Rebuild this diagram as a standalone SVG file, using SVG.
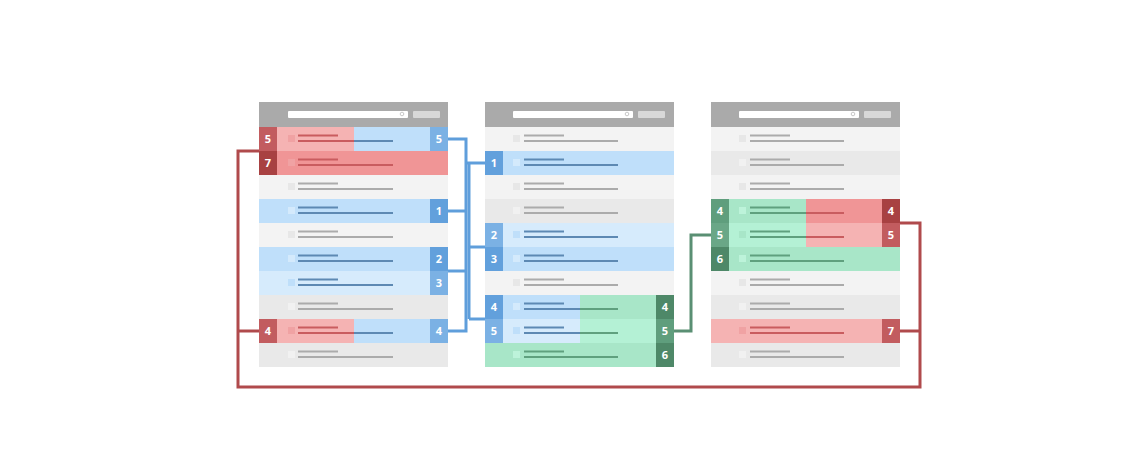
<svg xmlns="http://www.w3.org/2000/svg" width="1140" height="471" viewBox="0 0 1140 471">
<style>
.bg{fill:#ffffff}
.hdr{fill:#aaaaaa}
.srch{fill:#ffffff}
.btn{fill:#d8d8d8}
.g1{fill:#f3f3f3}
.g2{fill:#e9e9e9}
.bl{fill:#bfdffa}
.bl2{fill:#d6ebfc}
.pk{fill:#f5b3b3}
.sa{fill:#f09596}
.gr{fill:#a8e6c8}
.gr2{fill:#b4f1d5}
.bB{fill:#62a0dc}
.bB2{fill:#7bb1e4}
.bR{fill:#c25c5f}
.bR2{fill:#a84142}
.bG{fill:#4e8868}
.bG2{fill:#5f9e7d}
.bG3{fill:#6aa787}
.lG{fill:#ababab}
.lB{fill:#5d89b3}
.lR{fill:#c95c5f}
.lN{fill:#5fa07e}
.cg1{fill:#e7e7e7}
.cg2{fill:#f1f1f1}
.cb{fill:#d4eafc}
.cr{fill:#f0a2a3}
.cn{fill:#bdf3da}
.t{font-family:"Open Sans","DejaVu Sans",sans-serif;font-weight:bold;font-size:11px;fill:#ffffff;text-anchor:middle}
.cB{fill:none;stroke:#5f9edb;stroke-width:3}
.cN{fill:none;stroke:#5a8f73;stroke-width:3}
.cR{fill:none;stroke:#b04a4c;stroke-width:3}
.mag{fill:none;stroke:#c8c8c8;stroke-width:1}
</style>
<rect class="bg" x="0" y="0" width="1140" height="471"/>

<g id="connectors">
  <polyline class="cR" points="259,151 238,151 238,387 920,387 920,223 899,223"/>
  <line class="cR" x1="238" y1="331" x2="259" y2="331"/>
  <line class="cR" x1="899" y1="331" x2="920" y2="331"/>
  <polyline class="cB" points="448,139 466,139 466,331 448,331"/>
  <line class="cB" x1="448" y1="211" x2="466" y2="211"/>
  <line class="cB" x1="448" y1="271" x2="466" y2="271"/>
  <polyline class="cB" points="466,163 485,163"/>
  <line class="cB" x1="469" y1="163" x2="469" y2="319"/>
  <line class="cB" x1="469" y1="247" x2="485" y2="247"/>
  <line class="cB" x1="469" y1="319" x2="485" y2="319"/>
  <polyline class="cN" points="673,331 691,331 691,235 711,235"/>
</g>

<g id="panel-left">
  <rect class="hdr" x="259" y="102" width="189" height="25"/>
  <rect class="srch" x="288" y="111" width="120" height="7" rx="1"/>
  <circle class="mag" cx="402" cy="114" r="1.8"/>
  <rect class="btn" x="413" y="111" width="27" height="7" rx="1"/>
  <rect class="pk" x="277" y="127" width="77" height="24"/>
  <rect class="bl" x="354" y="127" width="76" height="24"/>
  <rect class="cr" x="288" y="135" width="7" height="7"/>
  <rect class="lR" x="298" y="134.5" width="40" height="2"/>
  <rect class="lR" x="298" y="140" width="56" height="2"/>
  <rect class="lB" x="354" y="140" width="39" height="2"/>
  <rect class="bR" x="259" y="127" width="18" height="24"/><text class="t" x="268" y="143">5</text>
  <rect class="bB2" x="430" y="127" width="18" height="24"/><text class="t" x="439" y="143">5</text>
  <rect class="sa" x="277" y="151" width="171" height="24"/>
  <rect class="cr" x="288" y="159" width="7" height="7"/>
  <rect class="lR" x="298" y="158.5" width="40" height="2"/>
  <rect class="lR" x="298" y="164" width="95" height="2"/>
  <rect class="bR2" x="259" y="151" width="18" height="24"/><text class="t" x="268" y="167">7</text>
  <rect class="g1" x="259" y="175" width="189" height="24"/>
  <rect class="cg1" x="288" y="183" width="7" height="7"/>
  <rect class="lG" x="298" y="182.5" width="40" height="2"/>
  <rect class="lG" x="298" y="188" width="95" height="2"/>
  <rect class="bl" x="259" y="199" width="189" height="24"/>
  <rect class="cb" x="288" y="207" width="7" height="7"/>
  <rect class="lB" x="298" y="206.5" width="40" height="2"/>
  <rect class="lB" x="298" y="212" width="95" height="2"/>
  <rect class="bB" x="430" y="199" width="18" height="24"/><text class="t" x="439" y="215">1</text>
  <rect class="g1" x="259" y="223" width="189" height="24"/>
  <rect class="cg1" x="288" y="231" width="7" height="7"/>
  <rect class="lG" x="298" y="230.5" width="40" height="2"/>
  <rect class="lG" x="298" y="236" width="95" height="2"/>
  <rect class="bl" x="259" y="247" width="189" height="24"/>
  <rect class="cb" x="288" y="255" width="7" height="7"/>
  <rect class="lB" x="298" y="254.5" width="40" height="2"/>
  <rect class="lB" x="298" y="260" width="95" height="2"/>
  <rect class="bB" x="430" y="247" width="18" height="24"/><text class="t" x="439" y="263">2</text>
  <rect class="bl2" x="259" y="271" width="189" height="24"/>
  <rect class="bl" x="288" y="279" width="7" height="7"/>
  <rect class="lB" x="298" y="278.5" width="40" height="2"/>
  <rect class="lB" x="298" y="284" width="95" height="2"/>
  <rect class="bB2" x="430" y="271" width="18" height="24"/><text class="t" x="439" y="287">3</text>
  <rect class="g2" x="259" y="295" width="189" height="24"/>
  <rect class="cg2" x="288" y="303" width="7" height="7"/>
  <rect class="lG" x="298" y="302.5" width="40" height="2"/>
  <rect class="lG" x="298" y="308" width="95" height="2"/>
  <rect class="pk" x="277" y="319" width="77" height="24"/>
  <rect class="bl" x="354" y="319" width="76" height="24"/>
  <rect class="cr" x="288" y="327" width="7" height="7"/>
  <rect class="lR" x="298" y="326.5" width="40" height="2"/>
  <rect class="lR" x="298" y="332" width="56" height="2"/>
  <rect class="lB" x="354" y="332" width="39" height="2"/>
  <rect class="bR" x="259" y="319" width="18" height="24"/><text class="t" x="268" y="335">4</text>
  <rect class="bB2" x="430" y="319" width="18" height="24"/><text class="t" x="439" y="335">4</text>
  <rect class="g2" x="259" y="343" width="189" height="24"/>
  <rect class="cg2" x="288" y="351" width="7" height="7"/>
  <rect class="lG" x="298" y="350.5" width="40" height="2"/>
  <rect class="lG" x="298" y="356" width="95" height="2"/>
</g>

<g id="panel-middle">
  <rect class="hdr" x="485" y="102" width="189" height="25"/>
  <rect class="srch" x="513" y="111" width="120" height="7" rx="1"/>
  <circle class="mag" cx="627" cy="114" r="1.8"/>
  <rect class="btn" x="638" y="111" width="27" height="7" rx="1"/>
  <rect class="g1" x="485" y="127" width="189" height="24"/>
  <rect class="cg1" x="513" y="135" width="7" height="7"/>
  <rect class="lG" x="524" y="134.5" width="40" height="2"/>
  <rect class="lG" x="524" y="140" width="94" height="2"/>
  <rect class="bl" x="485" y="151" width="189" height="24"/>
  <rect class="cb" x="513" y="159" width="7" height="7"/>
  <rect class="lB" x="524" y="158.5" width="40" height="2"/>
  <rect class="lB" x="524" y="164" width="94" height="2"/>
  <rect class="bB" x="485" y="151" width="18" height="24"/><text class="t" x="494" y="167">1</text>
  <rect class="g1" x="485" y="175" width="189" height="24"/>
  <rect class="cg1" x="513" y="183" width="7" height="7"/>
  <rect class="lG" x="524" y="182.5" width="40" height="2"/>
  <rect class="lG" x="524" y="188" width="94" height="2"/>
  <rect class="g2" x="485" y="199" width="189" height="24"/>
  <rect class="cg2" x="513" y="207" width="7" height="7"/>
  <rect class="lG" x="524" y="206.5" width="40" height="2"/>
  <rect class="lG" x="524" y="212" width="94" height="2"/>
  <rect class="bl2" x="485" y="223" width="189" height="24"/>
  <rect class="bl" x="513" y="231" width="7" height="7"/>
  <rect class="lB" x="524" y="230.5" width="40" height="2"/>
  <rect class="lB" x="524" y="236" width="94" height="2"/>
  <rect class="bB2" x="485" y="223" width="18" height="24"/><text class="t" x="494" y="239">2</text>
  <rect class="bl" x="485" y="247" width="189" height="24"/>
  <rect class="cb" x="513" y="255" width="7" height="7"/>
  <rect class="lB" x="524" y="254.5" width="40" height="2"/>
  <rect class="lB" x="524" y="260" width="94" height="2"/>
  <rect class="bB" x="485" y="247" width="18" height="24"/><text class="t" x="494" y="263">3</text>
  <rect class="g1" x="485" y="271" width="189" height="24"/>
  <rect class="cg1" x="513" y="279" width="7" height="7"/>
  <rect class="lG" x="524" y="278.5" width="40" height="2"/>
  <rect class="lG" x="524" y="284" width="94" height="2"/>
  <rect class="bl" x="503" y="295" width="77" height="24"/>
  <rect class="gr" x="580" y="295" width="76" height="24"/>
  <rect class="cb" x="513" y="303" width="7" height="7"/>
  <rect class="lB" x="524" y="302.5" width="40" height="2"/>
  <rect class="lB" x="524" y="308" width="56" height="2"/>
  <rect class="lN" x="580" y="308" width="38" height="2"/>
  <rect class="bB" x="485" y="295" width="18" height="24"/><text class="t" x="494" y="311">4</text>
  <rect class="bG" x="656" y="295" width="18" height="24"/><text class="t" x="665" y="311">4</text>
  <rect class="bl2" x="503" y="319" width="77" height="24"/>
  <rect class="gr2" x="580" y="319" width="76" height="24"/>
  <rect class="bl" x="513" y="327" width="7" height="7"/>
  <rect class="lB" x="524" y="326.5" width="40" height="2"/>
  <rect class="lB" x="524" y="332" width="56" height="2"/>
  <rect class="lN" x="580" y="332" width="38" height="2"/>
  <rect class="bB2" x="485" y="319" width="18" height="24"/><text class="t" x="494" y="335">5</text>
  <rect class="bG2" x="656" y="319" width="18" height="24"/><text class="t" x="665" y="335">5</text>
  <rect class="gr" x="485" y="343" width="171" height="24"/>
  <rect class="cn" x="513" y="351" width="7" height="7"/>
  <rect class="lN" x="524" y="350.5" width="40" height="2"/>
  <rect class="lN" x="524" y="356" width="94" height="2"/>
  <rect class="bG" x="656" y="343" width="18" height="24"/><text class="t" x="665" y="359">6</text>
</g>

<g id="panel-right">
  <rect class="hdr" x="711" y="102" width="189" height="25"/>
  <rect class="srch" x="739" y="111" width="120" height="7" rx="1"/>
  <circle class="mag" cx="853" cy="114" r="1.8"/>
  <rect class="btn" x="864" y="111" width="27" height="7" rx="1"/>
  <rect class="g1" x="711" y="127" width="189" height="24"/>
  <rect class="cg1" x="739" y="135" width="7" height="7"/>
  <rect class="lG" x="750" y="134.5" width="40" height="2"/>
  <rect class="lG" x="750" y="140" width="94" height="2"/>
  <rect class="g2" x="711" y="151" width="189" height="24"/>
  <rect class="cg2" x="739" y="159" width="7" height="7"/>
  <rect class="lG" x="750" y="158.5" width="40" height="2"/>
  <rect class="lG" x="750" y="164" width="94" height="2"/>
  <rect class="g1" x="711" y="175" width="189" height="24"/>
  <rect class="cg1" x="739" y="183" width="7" height="7"/>
  <rect class="lG" x="750" y="182.5" width="40" height="2"/>
  <rect class="lG" x="750" y="188" width="94" height="2"/>
  <rect class="gr" x="729" y="199" width="77" height="24"/>
  <rect class="sa" x="806" y="199" width="76" height="24"/>
  <rect class="cn" x="739" y="207" width="7" height="7"/>
  <rect class="lN" x="750" y="206.5" width="40" height="2"/>
  <rect class="lN" x="750" y="212" width="56" height="2"/>
  <rect class="lR" x="806" y="212" width="38" height="2"/>
  <rect class="bG2" x="711" y="199" width="18" height="24"/><text class="t" x="720" y="215">4</text>
  <rect class="bR2" x="882" y="199" width="18" height="24"/><text class="t" x="891" y="215">4</text>
  <rect class="gr2" x="729" y="223" width="77" height="24"/>
  <rect class="pk" x="806" y="223" width="76" height="24"/>
  <rect class="gr" x="739" y="231" width="7" height="7"/>
  <rect class="lN" x="750" y="230.5" width="40" height="2"/>
  <rect class="lN" x="750" y="236" width="56" height="2"/>
  <rect class="lR" x="806" y="236" width="38" height="2"/>
  <rect class="bG3" x="711" y="223" width="18" height="24"/><text class="t" x="720" y="239">5</text>
  <rect class="bR" x="882" y="223" width="18" height="24"/><text class="t" x="891" y="239">5</text>
  <rect class="gr" x="729" y="247" width="171" height="24"/>
  <rect class="cn" x="739" y="255" width="7" height="7"/>
  <rect class="lN" x="750" y="254.5" width="40" height="2"/>
  <rect class="lN" x="750" y="260" width="94" height="2"/>
  <rect class="bG" x="711" y="247" width="18" height="24"/><text class="t" x="720" y="263">6</text>
  <rect class="g1" x="711" y="271" width="189" height="24"/>
  <rect class="cg1" x="739" y="279" width="7" height="7"/>
  <rect class="lG" x="750" y="278.5" width="40" height="2"/>
  <rect class="lG" x="750" y="284" width="94" height="2"/>
  <rect class="g2" x="711" y="295" width="189" height="24"/>
  <rect class="cg2" x="739" y="303" width="7" height="7"/>
  <rect class="lG" x="750" y="302.5" width="40" height="2"/>
  <rect class="lG" x="750" y="308" width="94" height="2"/>
  <rect class="pk" x="711" y="319" width="171" height="24"/>
  <rect class="cr" x="739" y="327" width="7" height="7"/>
  <rect class="lR" x="750" y="326.5" width="40" height="2"/>
  <rect class="lR" x="750" y="332" width="94" height="2"/>
  <rect class="bR" x="882" y="319" width="18" height="24"/><text class="t" x="891" y="335">7</text>
  <rect class="g2" x="711" y="343" width="189" height="24"/>
  <rect class="cg2" x="739" y="351" width="7" height="7"/>
  <rect class="lG" x="750" y="350.5" width="40" height="2"/>
  <rect class="lG" x="750" y="356" width="94" height="2"/>
</g>
</svg>
